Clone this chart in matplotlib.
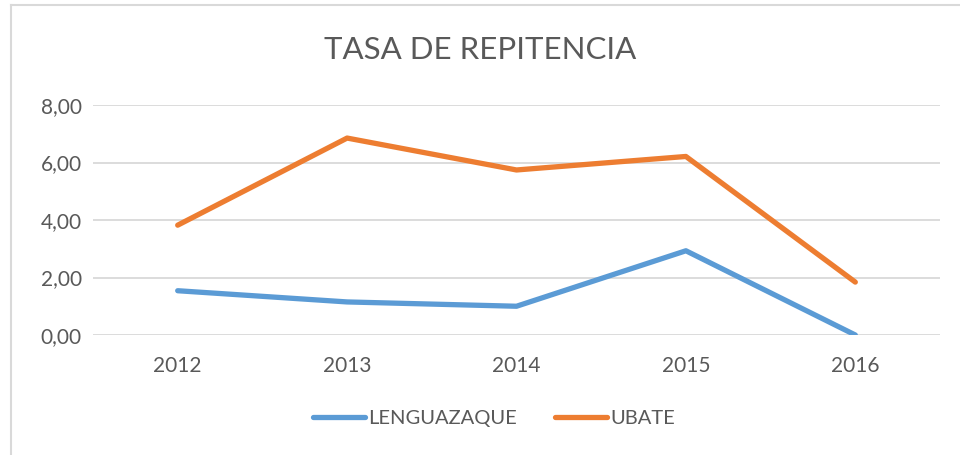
#!/usr/bin/env python3
import matplotlib

matplotlib.use("Agg")
import matplotlib.pyplot as plt
from matplotlib.lines import Line2D

years = ["2012", "2013", "2014", "2015", "2016"]
lenguazaque = [1.54, 1.15, 1.00, 2.93, 0.00]
ubate = [3.82, 6.85, 5.74, 6.21, 1.84]
y_ticks = [0, 2, 4, 6, 8]

BLUE = "#5B9BD5"
ORANGE = "#ED7D31"
TEXT = "#595959"
GRID = "#D9D9D9"

plt.rcParams["font.family"] = ["Lato", "DejaVu Sans"]

W, H = 960, 455
fig = plt.figure(figsize=(W / 100, H / 100), dpi=100)
ax = fig.add_axes([93 / W, 1 - 335 / H, (940 - 93) / W, (335 - 105) / H])

x = list(range(len(years)))
ax.plot(x, lenguazaque, color=BLUE, linewidth=3.8, solid_capstyle="round", solid_joinstyle="round", label="LENGUAZAQUE", zorder=3)
ax.plot(x, ubate, color=ORANGE, linewidth=3.8, solid_capstyle="round", solid_joinstyle="round", label="UBATE", zorder=3)

ax.set_xlim(-0.5, len(years) - 0.5)
ax.set_ylim(0, 8)
ax.set_yticks(y_ticks)
ax.set_yticklabels([f"{v:.2f}".replace(".", ",") for v in y_ticks])
ax.set_xticks(x)
ax.set_xticklabels(years)
ax.tick_params(length=0, labelsize=15, labelcolor=TEXT)
ax.tick_params(axis="y", pad=8)
ax.tick_params(axis="x", pad=15)
ax.grid(axis="y", color=GRID, linewidth=1.3)
ax.set_axisbelow(True)
for spine in ax.spines.values():
    spine.set_visible(False)

fig.text(0.5, 1 - 50 / H, "TASA DE REPITENCIA", ha="center", va="center", fontsize=22.5, color=TEXT)

handles = [
    Line2D([], [], color=BLUE, linewidth=3.8, solid_capstyle="round"),
    Line2D([], [], color=ORANGE, linewidth=3.8, solid_capstyle="round"),
]
fig.legend(handles, ["LENGUAZAQUE", "UBATE"], loc="center", bbox_to_anchor=(494 / W, 1 - 418 / H),
           ncol=2, frameon=False, fontsize=14.5, labelcolor=TEXT, handlelength=2.6,
           handletextpad=0.15, columnspacing=1.9)

# chart border (only left and top visible in the crop)
fig.add_artist(Line2D([10.5 / W, 10.5 / W], [0, 1 - 5 / H], color=GRID, linewidth=1.5))
fig.add_artist(Line2D([10.5 / W, 1], [1 - 5 / H, 1 - 5 / H], color=GRID, linewidth=1.5))

fig.savefig("out.png", dpi=100)
